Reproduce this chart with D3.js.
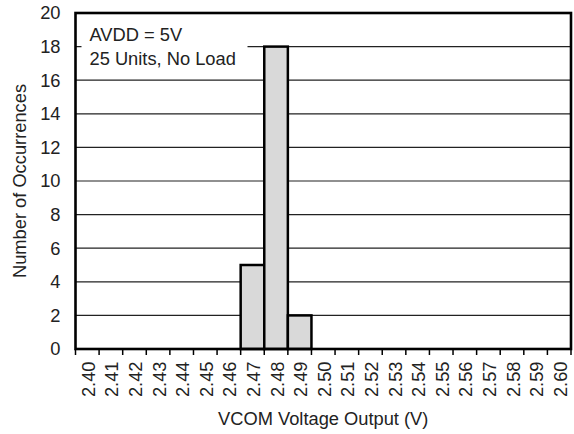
<!DOCTYPE html>
<html>
<head>
<meta charset="utf-8">
<script src="https://cdn.jsdelivr.net/npm/d3@7"></script>
<style>
  body { margin: 0; background: #fff; }
  text { font-family: "Liberation Sans", Arial, sans-serif; fill: #222; }
</style>
</head>
<body>
<div id="wrapper"></div>
<script>
// bins (V) and counts
const binLabels = ["2.40", "2.41", "2.42", "2.43", "2.44", "2.45", "2.46", "2.47", "2.48", "2.49", "2.50",
    "2.51", "2.52", "2.53", "2.54", "2.55", "2.56", "2.57", "2.58", "2.59", "2.60"];
const counts = [0, 0, 0, 0, 0, 0, 0, 5, 18, 2, 0, 0, 0, 0, 0, 0, 0, 0, 0, 0, 0];
const yTicks = [0, 2, 4, 6, 8, 10, 12, 14, 16, 18, 20];
const noteLines = ["AVDD = 5V", "25 Units, No Load"];

const fontSize = "18.3px";

const dimension = {
    width: 574,
    height: 434,
    margin: { top: 13, left: 75.5, bottom: 85, right: 3 }
};
dimension.boundedWidth = dimension.width - dimension.margin.left - dimension.margin.right;
dimension.boundedHeight = dimension.height - dimension.margin.top - dimension.margin.bottom;

const data = binLabels.map((b, i) => ({ bin: b, count: counts[i] }));

const wrapper = d3.select("#wrapper")
    .append("svg")
    .attr("width", dimension.width)
    .attr("height", dimension.height);

const bounds = wrapper.append("g")
    .attr("transform", `translate(${dimension.margin.left},${dimension.margin.top})`);

const xScaler = d3.scaleBand()
    .domain(binLabels)
    .range([0, dimension.boundedWidth])
    .padding(0);

const yScaler = d3.scaleLinear()
    .domain([0, 20])
    .range([dimension.boundedHeight, 0]);

// horizontal grid
bounds.append("g")
    .selectAll("line")
    .data(yTicks.filter(t => t > 0 && t < 20))
    .enter()
    .append("line")
    .attr("x1", 0)
    .attr("x2", dimension.boundedWidth)
    .attr("y1", d => yScaler(d))
    .attr("y2", d => yScaler(d))
    .attr("stroke", "#222")
    .attr("stroke-width", 1.2);

// note box covers the grid behind it
const note = bounds.append("g");
note.append("rect")
    .attr("x", 6)
    .attr("y", 8)
    .attr("width", 166)
    .attr("height", 52)
    .attr("fill", "#fff");
note.selectAll("text")
    .data(noteLines)
    .enter()
    .append("text")
    .attr("x", 14)
    .attr("y", (d, i) => 27.5 + i * 24)
    .attr("font-size", fontSize)
    .text(d => d);

// bars
bounds.append("g")
    .selectAll("rect")
    .data(data.filter(d => d.count > 0))
    .enter()
    .append("rect")
    .attr("x", d => xScaler(d.bin))
    .attr("y", d => yScaler(d.count))
    .attr("width", xScaler.bandwidth())
    .attr("height", d => dimension.boundedHeight - yScaler(d.count))
    .attr("fill", "#d9d9d9")
    .attr("stroke", "#000")
    .attr("stroke-width", 2.5);

// x axis: ticks at bin edges, labels at bin centres
const edges = binLabels.map(b => xScaler(b)).concat([dimension.boundedWidth]);
const xAxis = bounds.append("g")
    .attr("transform", `translate(0,${dimension.boundedHeight})`);
xAxis.selectAll("line")
    .data(edges)
    .enter()
    .append("line")
    .attr("x1", d => d)
    .attr("x2", d => d)
    .attr("y1", 0)
    .attr("y2", 6)
    .attr("stroke", "#000")
    .attr("stroke-width", 1.5);
xAxis.selectAll("text")
    .data(binLabels)
    .enter()
    .append("text")
    .attr("transform", d => `translate(${xScaler(d) + xScaler.bandwidth() / 2 + 7.5},12.5) rotate(-90)`)
    .attr("text-anchor", "end")
    .attr("font-size", fontSize)
    .text(d => d);

// y axis labels
const yAxisGen = d3.axisLeft(yScaler)
    .tickValues(yTicks)
    .tickSize(0)
    .tickPadding(15);
const yAxis = bounds.append("g").call(yAxisGen);
yAxis.select(".domain").remove();
yAxis.selectAll("text")
    .attr("font-size", fontSize)
    .attr("font-family", "Liberation Sans, Arial, sans-serif")
    .attr("fill", "#222");

// frame
bounds.append("rect")
    .attr("x", 0)
    .attr("y", 0)
    .attr("width", dimension.boundedWidth)
    .attr("height", dimension.boundedHeight)
    .attr("fill", "none")
    .attr("stroke", "#000")
    .attr("stroke-width", 2.6);

// titles
bounds.append("text")
    .attr("x", dimension.boundedWidth / 2)
    .attr("y", dimension.boundedHeight + 76)
    .attr("text-anchor", "middle")
    .attr("font-size", fontSize)
    .text("VCOM Voltage Output (V)");

bounds.append("text")
    .attr("transform", `translate(${-dimension.margin.left + 26},${dimension.boundedHeight / 2}) rotate(-90)`)
    .attr("text-anchor", "middle")
    .attr("font-size", fontSize)
    .text("Number of Occurrences");
</script>
</body>
</html>
